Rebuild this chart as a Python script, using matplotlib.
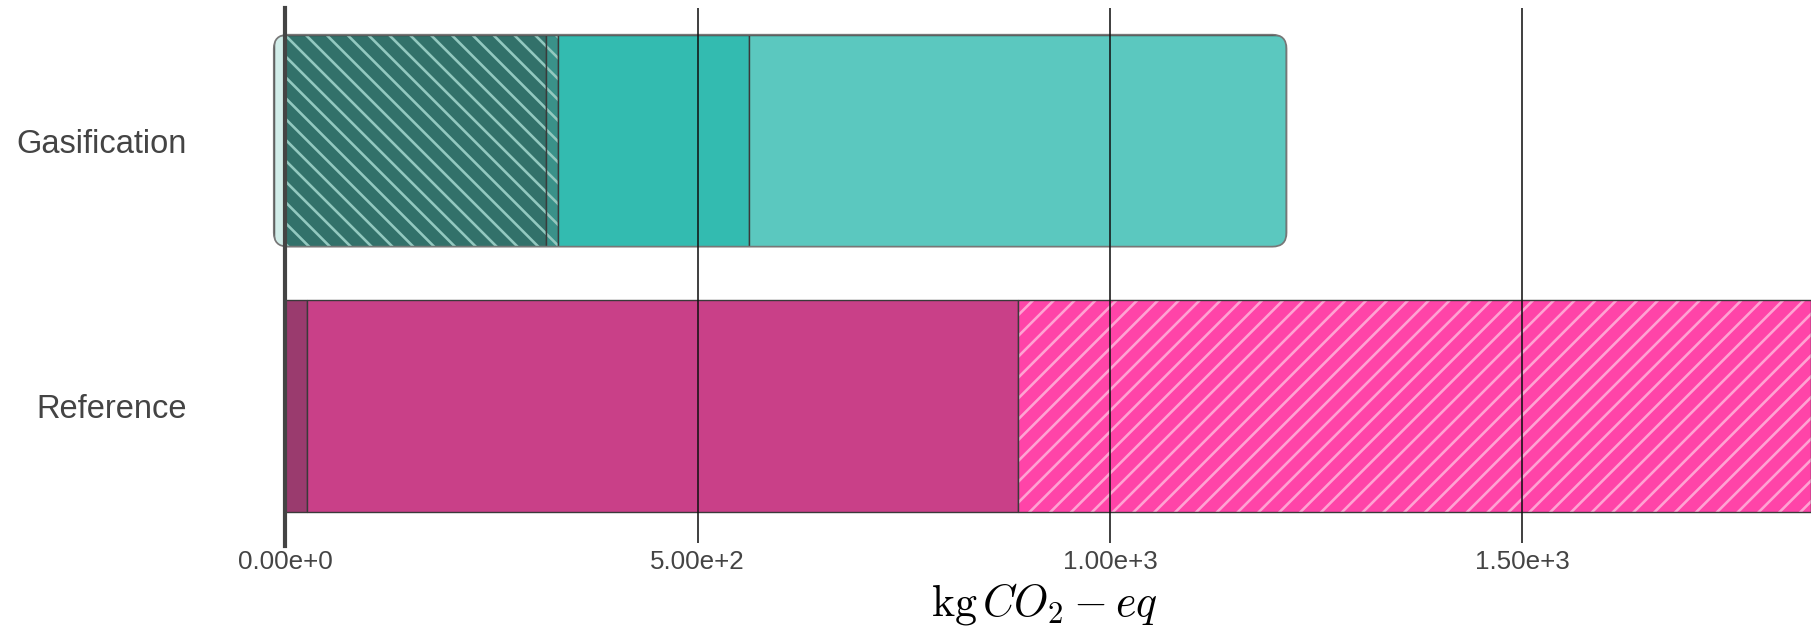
import matplotlib
matplotlib.use("Agg")
import matplotlib.pyplot as plt
from matplotlib.patches import FancyBboxPatch
from matplotlib.ticker import FuncFormatter

# Chart data (kg CO2-eq per stage).
categories = ["Reference", "Gasification"]
gasificationValues = [-14, 316, 15, 231, 652]
referenceValues = [26, 862, 962]
xTicks = [0, 500, 1000, 1500]

# Styles for each segment.
gasColors = ["#d2ede9", "#32716a", "#3a9189", "#33bbb0", "#5bc8bf"]
gasHatches = [None, "\\\\", "\\\\", None, None]
refColors = ["#9a3b6e", "#c94088", "#ff44a8"]
refHatches = [None, None, "//"]

plt.rcParams["font.family"] = ["Liberation Sans", "DejaVu Sans"]
plt.rcParams["mathtext.fontset"] = "cm"
plt.rcParams["hatch.linewidth"] = 1.5

fig = plt.figure(figsize=(1811 / 125, 633 / 125), dpi=125)
ax = fig.add_axes([0.153, 0.150, 0.847, 0.837])
barHeight = 0.8


def drawStack(ypos, values, colors, hatches, hatchColor):
    patches = []
    posLeft, negLeft = 0, 0
    for value, color, hatch in zip(values, colors, hatches):
        if value < 0:
            left = negLeft
            negLeft += value
        else:
            left = posLeft
            posLeft += value
        if hatch:
            bars = ax.barh(ypos, value, left=left, height=barHeight, color=color,
                           hatch=hatch, edgecolor=hatchColor, linewidth=0)
            patches.extend(bars.patches)
        bars = ax.barh(ypos, value, left=left, height=barHeight,
                       color=color if not hatch else "none",
                       edgecolor="#3a3a3a", linewidth=0.8)
        patches.extend(bars.patches)
    return patches, negLeft, posLeft


# Reference bar.
drawStack(0, referenceValues, refColors, refHatches, "#ffa3d3")

# Gasification bar, clipped into a rounded box.
gasPatches, gasMin, gasMax = drawStack(1, gasificationValues, gasColors,
                                       gasHatches, "#93c9c0")
roundBox = FancyBboxPatch((gasMin, 1 - barHeight / 2), gasMax - gasMin, barHeight,
                          boxstyle="round,pad=0,rounding_size=17",
                          mutation_aspect=0.0031, facecolor="none",
                          edgecolor="#777777", linewidth=1.0, zorder=2,
                          clip_on=False)
ax.add_patch(roundBox)
for patch in gasPatches:
    patch.set_clip_box(None)
    patch.set_clip_path(roundBox)

# Axes features.
ax.set_xlim(-10, sum(referenceValues))
ax.set_ylim(-0.5, 1.5)
ax.set_yticks(range(len(categories)))
ax.set_yticklabels(categories)
ax.set_xticks(xTicks)


def sciFormat(v, pos):
    mantissa, exponent = f"{v:.2e}".split("e")
    return f"{mantissa}e{int(exponent):+d}"


ax.xaxis.set_major_formatter(FuncFormatter(sciFormat))
ax.grid(axis="x", color="#111111", linewidth=0.9)
ax.grid(axis="y", visible=False)
ax.set_axisbelow(False)
for spine in ax.spines.values():
    spine.set_visible(False)
ax.axvline(0, ymin=-0.015, ymax=1, color="#444444", linewidth=2.4,
           zorder=3, clip_on=False)

ax.tick_params(axis="y", length=0, pad=52, labelsize=18.8, labelcolor="#444444")
ax.tick_params(axis="x", length=3, width=0.9, color="#111111", pad=4,
               labelsize=15, labelcolor="#444444")
ax.set_xlabel(r"$\mathrm{kg}\,CO_2-eq$", fontsize=25.3, labelpad=4)

fig.savefig("out.png", dpi=125)
